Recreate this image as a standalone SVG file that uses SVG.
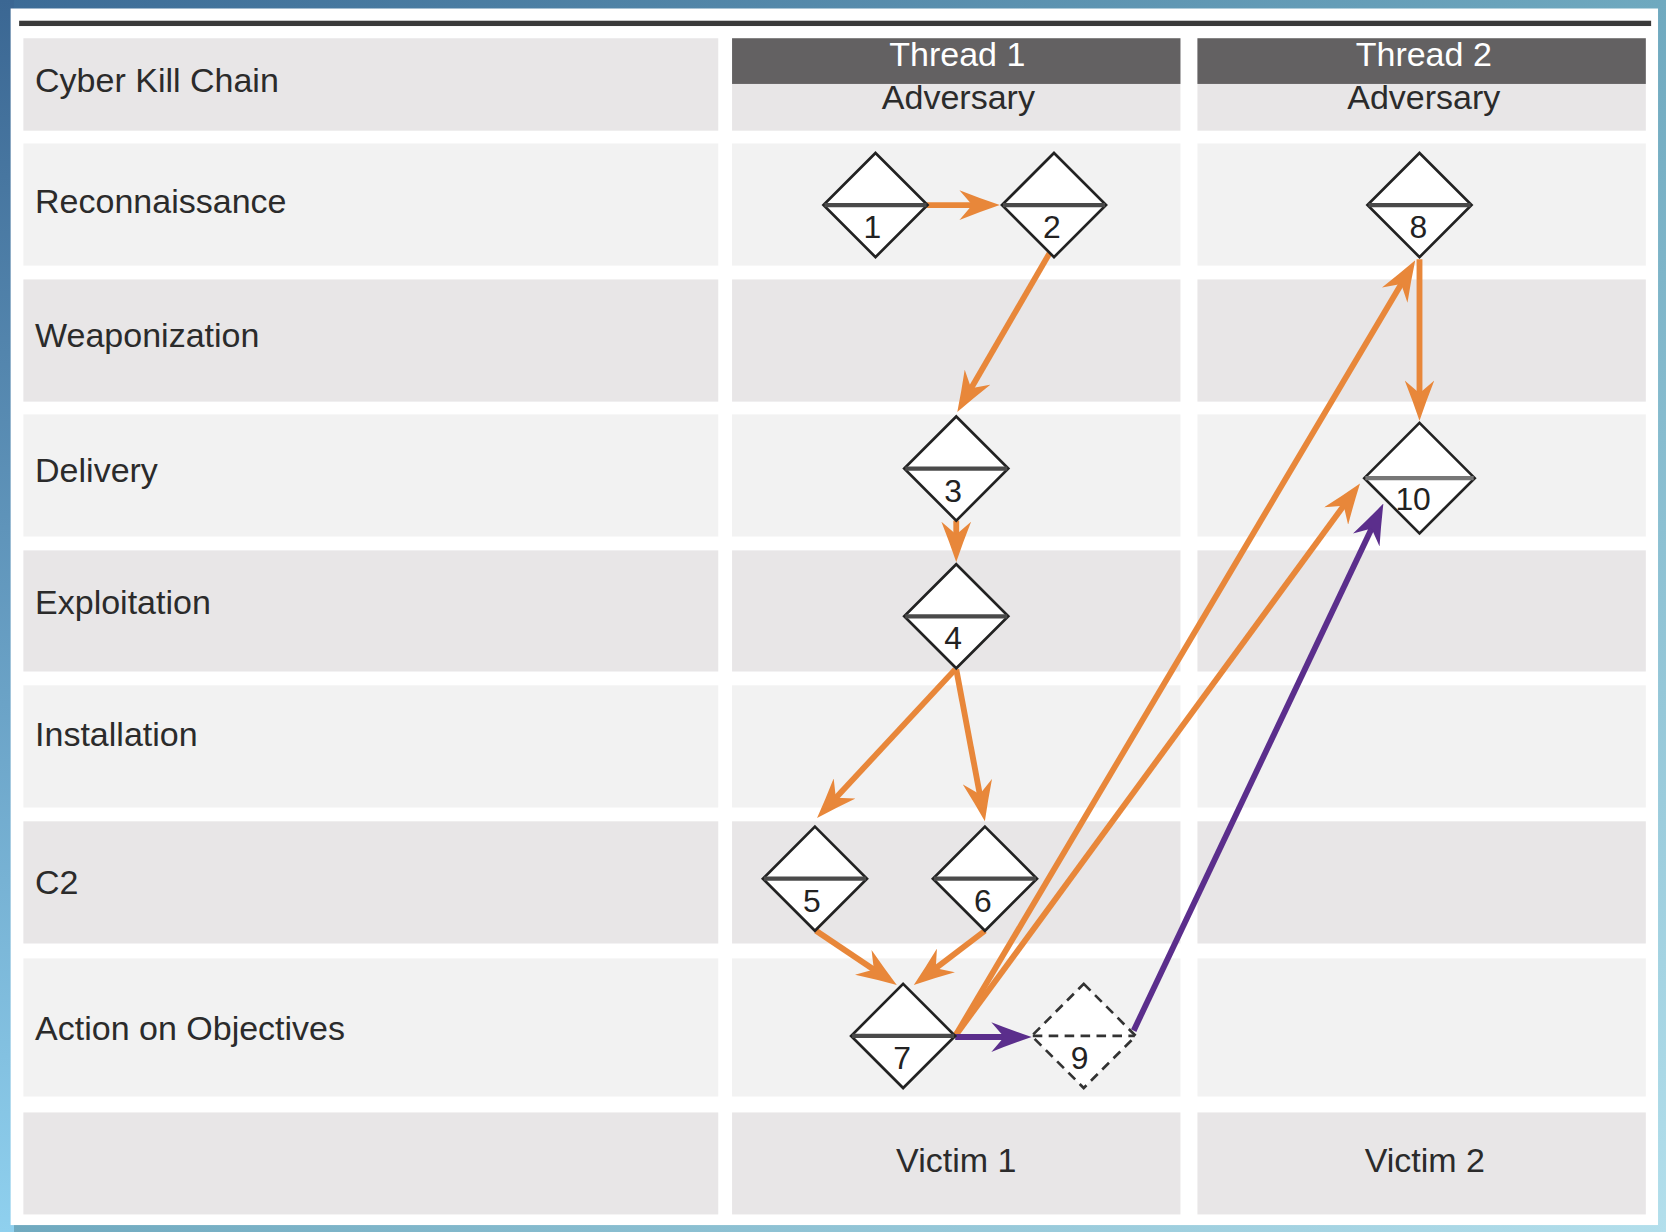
<svg xmlns="http://www.w3.org/2000/svg" width="1666" height="1232" viewBox="0 0 1666 1232">
<defs>
<linearGradient id="frame" x1="0" y1="0" x2="1" y2="1">
<stop offset="0" stop-color="#3c6b96"/>
<stop offset="0.5" stop-color="#6fa9bf"/>
<stop offset="1" stop-color="#b3dfec"/>
</linearGradient>
<linearGradient id="left" x1="0" y1="0" x2="0" y2="1">
<stop offset="0" stop-color="#3b6793"/>
<stop offset="1" stop-color="#8fd0ee"/>
</linearGradient>
<marker id="ao" markerUnits="userSpaceOnUse" markerWidth="38" markerHeight="28" viewBox="0 0 38 28" refX="27" refY="14" orient="auto">
<path d="M38,14 Q19,7.5 0,0 L12,14 L0,28 Q19,20.5 38,14 Z" fill="#e8873a"/>
</marker>
<marker id="ap" markerUnits="userSpaceOnUse" markerWidth="38" markerHeight="28" viewBox="0 0 38 28" refX="27" refY="14" orient="auto">
<path d="M38,14 Q19,7.5 0,0 L12,14 L0,28 Q19,20.5 38,14 Z" fill="#5b2e8c"/>
</marker>
</defs>
<style>
.lbl{font-family:"Liberation Sans","Helvetica Neue",Arial,sans-serif;font-size:32px;fill:#2b2b2b}
.hd{font-family:"Liberation Sans","Helvetica Neue",Arial,sans-serif;font-size:32px;fill:#2b2b2b;text-anchor:middle}
.th{font-family:"Liberation Sans","Helvetica Neue",Arial,sans-serif;font-size:32px;fill:#ffffff;text-anchor:middle}
.num{font-family:"Liberation Sans","Helvetica Neue",Arial,sans-serif;font-size:30px;fill:#222;text-anchor:middle}
.dk{fill:#e8e6e7}
.lt{fill:#f2f2f2}
.dia{fill:#ffffff;stroke:#222;stroke-width:2.5}
.mid{stroke:#4a4a4a;stroke-width:4}
.dash{fill:#ffffff;stroke:#333;stroke-width:2.5;stroke-dasharray:9 6}
.o{stroke:#e8873a;stroke-width:5.5;fill:none;marker-end:url(#ao)}
.p{stroke:#5b2e8c;stroke-width:5.5;fill:none;marker-end:url(#ap)}
</style>
<rect x="0" y="0" width="1666" height="1232" fill="url(#frame)"/>
<rect x="0" y="0" width="14" height="1232" fill="url(#left)"/>
<g transform="scale(1.0625)">
<rect x="10" y="8" width="1550.5" height="1145" fill="#ffffff"/>
<rect x="18" y="19.5" width="1536" height="5" fill="#3a3a3a"/>
<g id="grid">
<rect class="dk" x="22" y="36" width="654" height="87"/>
<rect class="dk" x="689" y="36" width="422" height="87"/>
<rect class="dk" x="1127" y="36" width="422" height="87"/>
<rect class="lt" x="22" y="135" width="654" height="115"/>
<rect class="lt" x="689" y="135" width="422" height="115"/>
<rect class="lt" x="1127" y="135" width="422" height="115"/>
<rect class="dk" x="22" y="263" width="654" height="115"/>
<rect class="dk" x="689" y="263" width="422" height="115"/>
<rect class="dk" x="1127" y="263" width="422" height="115"/>
<rect class="lt" x="22" y="390" width="654" height="115"/>
<rect class="lt" x="689" y="390" width="422" height="115"/>
<rect class="lt" x="1127" y="390" width="422" height="115"/>
<rect class="dk" x="22" y="518" width="654" height="114"/>
<rect class="dk" x="689" y="518" width="422" height="114"/>
<rect class="dk" x="1127" y="518" width="422" height="114"/>
<rect class="lt" x="22" y="645" width="654" height="115"/>
<rect class="lt" x="689" y="645" width="422" height="115"/>
<rect class="lt" x="1127" y="645" width="422" height="115"/>
<rect class="dk" x="22" y="773" width="654" height="115"/>
<rect class="dk" x="689" y="773" width="422" height="115"/>
<rect class="dk" x="1127" y="773" width="422" height="115"/>
<rect class="lt" x="22" y="902" width="654" height="130"/>
<rect class="lt" x="689" y="902" width="422" height="130"/>
<rect class="lt" x="1127" y="902" width="422" height="130"/>
<rect class="dk" x="22" y="1047" width="654" height="96"/>
<rect class="dk" x="689" y="1047" width="422" height="96"/>
<rect class="dk" x="1127" y="1047" width="422" height="96"/>
<rect x="689" y="36" width="422" height="43" fill="#636162"/>
<rect x="1127" y="36" width="422" height="43" fill="#636162"/>
</g>
<g id="labels">
<text class="lbl" x="33" y="87">Cyber Kill Chain</text>
<text class="lbl" x="33" y="200">Reconnaissance</text>
<text class="lbl" x="33" y="327">Weaponization</text>
<text class="lbl" x="33" y="454">Delivery</text>
<text class="lbl" x="33" y="578">Exploitation</text>
<text class="lbl" x="33" y="702">Installation</text>
<text class="lbl" x="33" y="841">C2</text>
<text class="lbl" x="33" y="979">Action on Objectives</text>
<text class="th" x="901" y="62">Thread 1</text>
<text class="th" x="1340" y="62">Thread 2</text>
<text class="hd" x="902" y="103">Adversary</text>
<text class="hd" x="1340" y="103">Adversary</text>
<text class="hd" x="900" y="1103">Victim 1</text>
<text class="hd" x="1341" y="1103">Victim 2</text>
</g>
<g id="connectors">
<line class="o" x1="872" y1="193" x2="930" y2="193"/>
<line class="o" x1="988" y1="238" x2="906.5" y2="378.3"/>
<line class="o" x1="900" y1="490" x2="900" y2="518"/>
<line class="o" x1="899" y1="630" x2="776.5" y2="761.9"/>
<line class="o" x1="900" y1="630" x2="924.9" y2="762.2"/>
<line class="o" x1="768" y1="876" x2="834.9" y2="920.9"/>
<line class="o" x1="927" y1="876" x2="868.8" y2="920.3"/>
<line class="o" x1="899" y1="975" x2="1326.4" y2="254.5"/>
<line class="o" x1="899" y1="975" x2="1273.5" y2="463.9"/>
<line class="o" x1="1336" y1="244" x2="1336" y2="385"/>
<line class="p" x1="899" y1="976" x2="960" y2="976"/>
<line class="p" x1="1067" y1="970" x2="1297.3" y2="483.9"/>
</g>
<g id="n1"><path class="dia" d="M824,144 L873,193 L824,242 L775,193 Z"/><line class="mid" x1="776" y1="193" x2="872" y2="193"/><text class="num" x="821" y="224">1</text></g>
<g id="n2"><path class="dia" d="M992,144 L1041,193 L992,242 L943,193 Z"/><line class="mid" x1="944" y1="193" x2="1040" y2="193"/><text class="num" x="990" y="224">2</text></g>
<g id="n8"><path class="dia" d="M1336,144 L1385,193 L1336,242 L1287,193 Z"/><line class="mid" x1="1288" y1="193" x2="1384" y2="193"/><text class="num" x="1335" y="224">8</text></g>
<g id="n3"><path class="dia" d="M900,392 L949,441 L900,490 L851,441 Z"/><line class="mid" x1="852" y1="441" x2="948" y2="441"/><text class="num" x="897" y="472">3</text></g>
<g id="n4"><path class="dia" d="M900,531 L949,580 L900,629 L851,580 Z"/><line class="mid" x1="852" y1="580" x2="948" y2="580"/><text class="num" x="897" y="611">4</text></g>
<g id="n10"><path class="dia" d="M1336,398 L1388,450 L1336,502 L1284,450 Z"/><line class="mid" x1="1285" y1="450" x2="1387" y2="450" style="stroke:#777"/><text class="num" x="1330" y="480">10</text></g>
<g id="n5"><path class="dia" d="M767,778 L816,827 L767,876 L718,827 Z"/><line class="mid" x1="719" y1="827" x2="815" y2="827"/><text class="num" x="764" y="858">5</text></g>
<g id="n6"><path class="dia" d="M927,778 L976,827 L927,876 L878,827 Z"/><line class="mid" x1="879" y1="827" x2="975" y2="827"/><text class="num" x="925" y="858">6</text></g>
<g id="n7"><path class="dia" d="M850,926 L899,975 L850,1024 L801,975 Z"/><line class="mid" x1="802" y1="975" x2="898" y2="975"/><text class="num" x="849" y="1006">7</text></g>
<g id="n9"><path class="dash" d="M1020,926 L1069,975 L1020,1024 L971,975 Z"/><line x1="972" y1="975" x2="1068" y2="975" stroke="#333" stroke-width="2.5" stroke-dasharray="9 6"/><text class="num" x="1016" y="1006">9</text></g>
</g>
</svg>
